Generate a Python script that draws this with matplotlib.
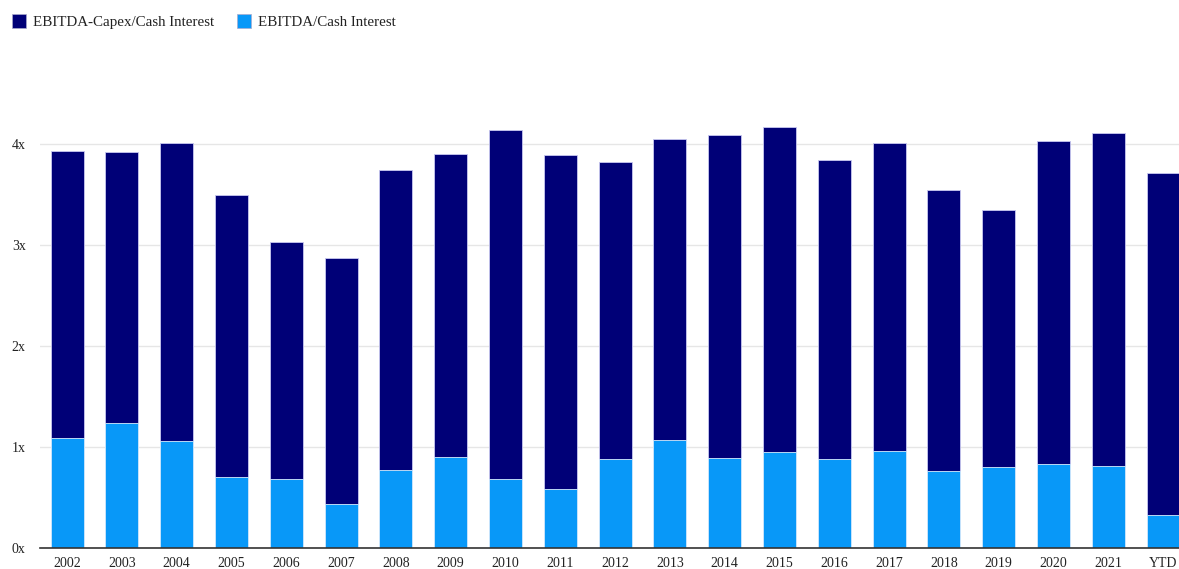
import matplotlib
matplotlib.use("Agg")
import matplotlib.pyplot as plt
from matplotlib.patches import Rectangle

categories = ["2002", "2003", "2004", "2005", "2006", "2007", "2008", "2009", "2010", "2011",
              "2012", "2013", "2014", "2015", "2016", "2017", "2018", "2019", "2020", "2021", "YTD"]
ebitda_capex = [3.93, 3.92, 4.01, 3.50, 3.03, 2.87, 3.74, 3.90, 4.14, 3.89,
                3.82, 4.05, 4.09, 4.17, 3.84, 4.01, 3.54, 3.35, 4.03, 4.11, 3.71]
ebitda = [1.09, 1.24, 1.06, 0.70, 0.68, 0.44, 0.77, 0.90, 0.68, 0.58,
          0.88, 1.07, 0.89, 0.95, 0.88, 0.96, 0.76, 0.80, 0.83, 0.81, 0.33]
yticks = [0, 1, 2, 3, 4]
ytick_labels = ["0x", "1x", "2x", "3x", "4x"]

DARK = "#000077"
LIGHT = "#0898f8"

plt.rcParams['font.family'] = ['Liberation Serif', 'DejaVu Serif']

W, H = 1179, 569
fig = plt.figure(figsize=(W / 100, H / 100), dpi=100)
left_px, right_px = 39.6, 1190.4
bottom_px = 548
ymax = 4.5
top_px = bottom_px - ymax * 101
ax = fig.add_axes([left_px / W, (H - bottom_px) / H, (right_px - left_px) / W, (bottom_px - top_px) / H])

x = list(range(len(categories)))
bw = 33 / 54.8
ax.bar(x, ebitda_capex, width=bw, color=DARK, edgecolor="#c8c8f0", linewidth=0.6, zorder=2)
ax.bar(x, ebitda, width=bw, color=LIGHT, edgecolor="#d8eefe", linewidth=0.6, zorder=3)

ax.set_xlim(-0.5, len(categories) - 0.5)
ax.set_ylim(0, ymax)
ax.set_yticks(yticks)
ax.set_yticklabels(ytick_labels)
ax.set_xticks(x)
ax.set_xticklabels(categories)
ax.tick_params(axis='both', length=0, labelsize=10, colors="#222222")
ax.tick_params(axis='x', pad=6.5)
for lab in ax.get_yticklabels():
    lab.set_horizontalalignment('left')
ax.yaxis.set_tick_params(pad=20)
ax.grid(axis='y', color="#e6e6e6", linewidth=1, zorder=0)
ax.set_axisbelow(True)
for s in ["top", "right", "left"]:
    ax.spines[s].set_visible(False)
ax.spines["bottom"].set_color("#333333")
ax.spines["bottom"].set_linewidth(1.2)
ax.spines["bottom"].set_zorder(4)

# legend
def legend_item(xp, color, label):
    fig.patches.append(Rectangle((xp / W, (H - 28) / H), 14 / W, 14 / H,
                                 transform=fig.transFigure, facecolor=color,
                                 edgecolor="#aaaacc", linewidth=0.5))
    fig.text((xp + 21) / W, (H - 22.5) / H, label, fontsize=10.8, va='center', ha='left', color="#222222")

legend_item(12, DARK, "EBITDA-Capex/Cash Interest")
legend_item(237, LIGHT, "EBITDA/Cash Interest")

fig.savefig("out.png", dpi=100)
